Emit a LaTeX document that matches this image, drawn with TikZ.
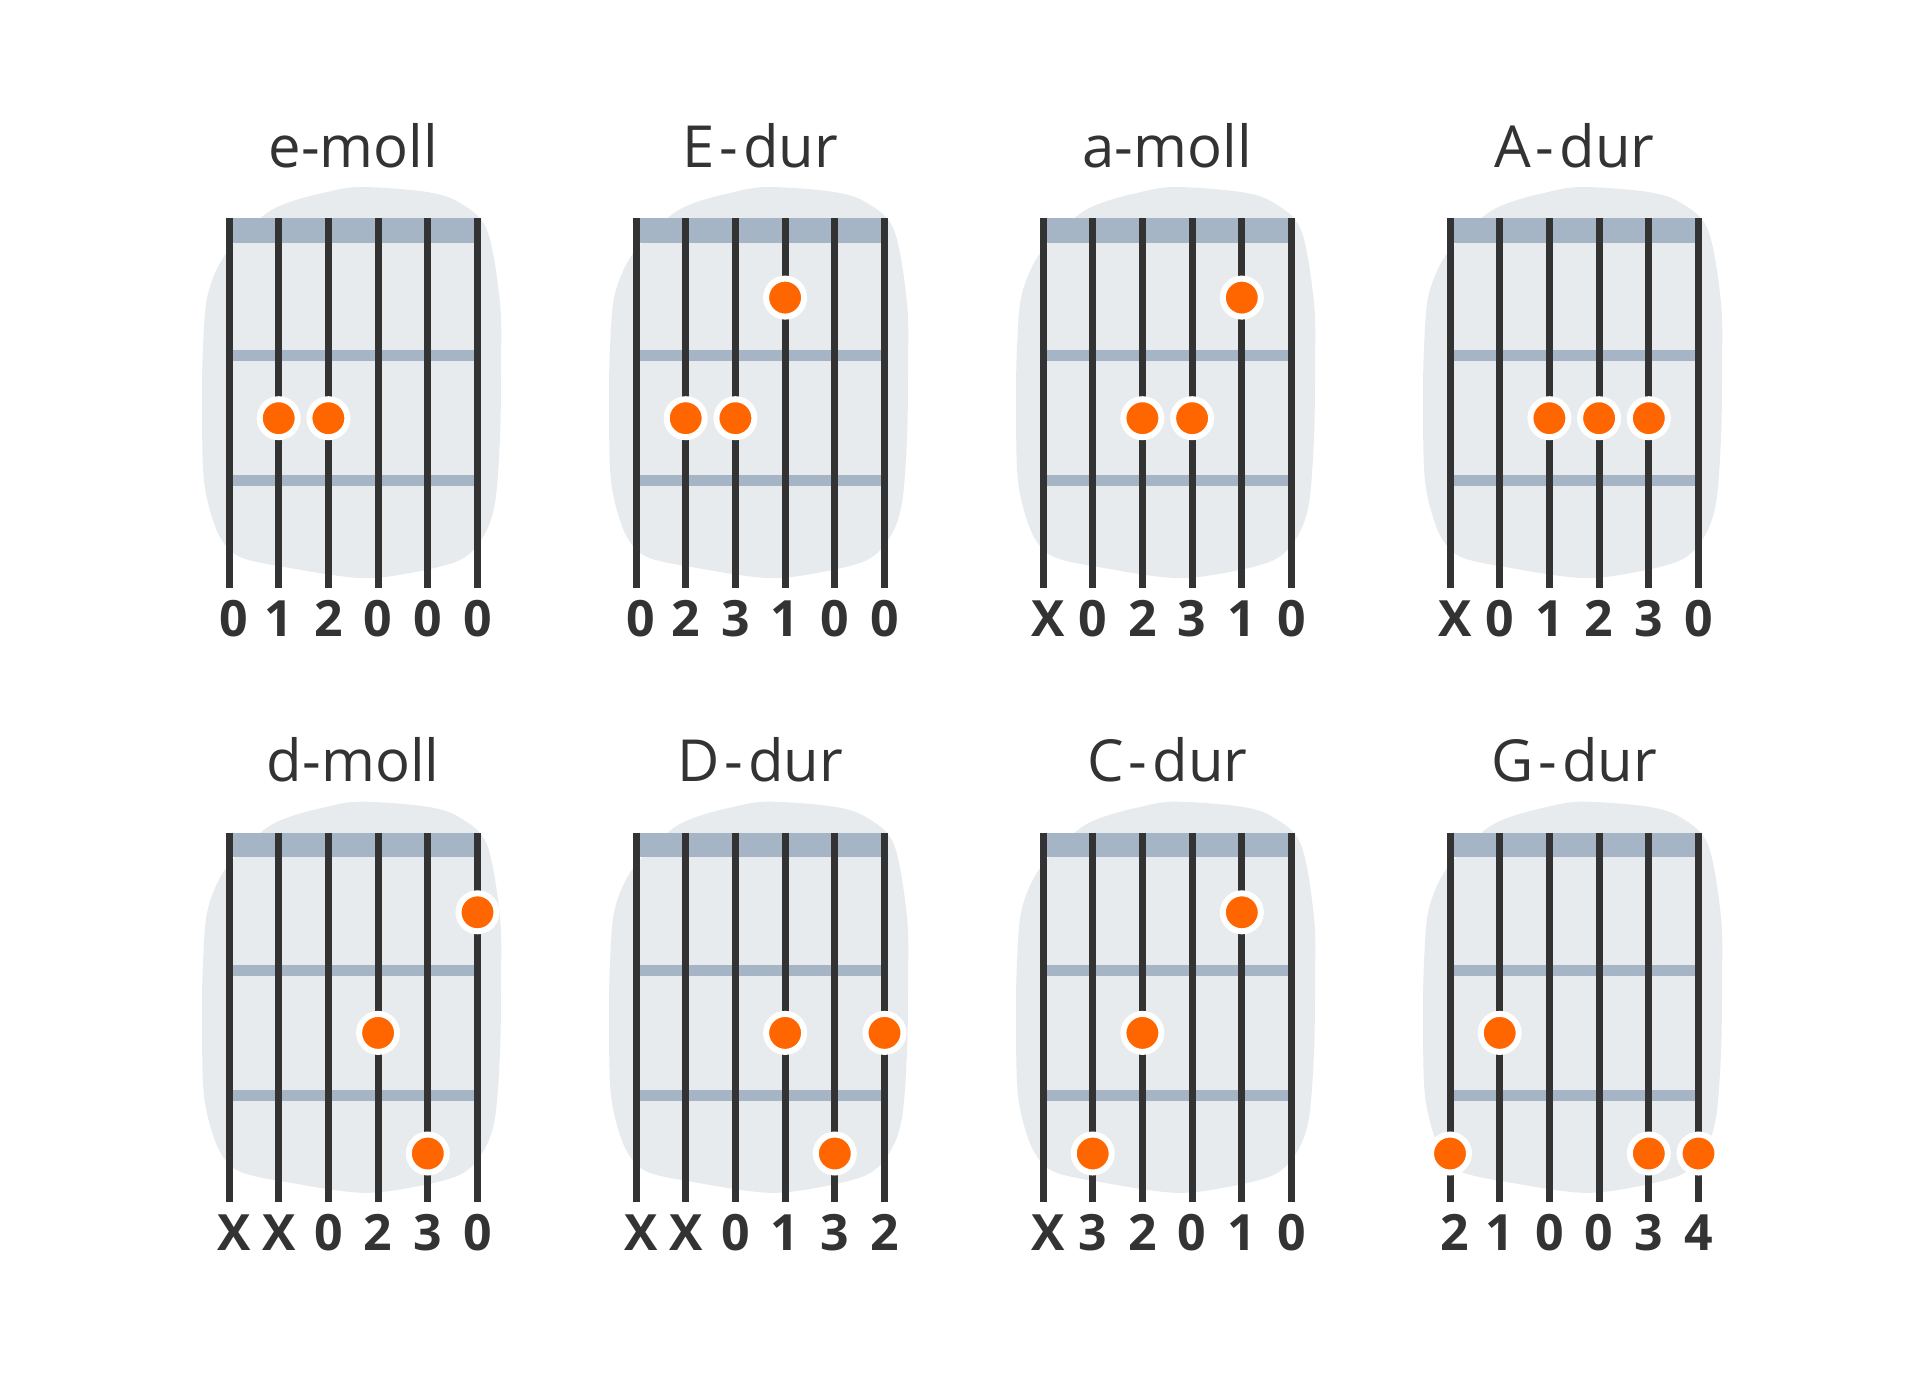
\documentclass[tikz,border=0pt]{standalone}
\usepackage{fontspec}
\setmainfont{Open Sans}
\definecolor{blobc}{HTML}{E7EBEE}
\definecolor{fretc}{HTML}{A5B5C5}
\definecolor{strc}{HTML}{333333}
\definecolor{dotc}{HTML}{FF6600}
\tikzset{
  titlelab/.style={anchor=base,inner sep=0pt,text=strc,font=\fontsize{58}{70}\selectfont},
  numlab/.style={anchor=base,inner sep=0pt,text=strc,font=\fontsize{50}{60}\selectfont\bfseries},
  guitarstring/.style={draw=strc,line width=7pt},
  fretbar/.style={draw=fretc,line width=11pt},
  nutbar/.style={fill=fretc},
  fingerdot/.style={circle,fill=dotc,draw=white,line width=6pt,minimum size=38pt,inner sep=0pt}
}
% #1 id, #2 x0, #3 y0, #4 title, #5 labels, #6 dots (string/fret)
\newcommand\chorddiagram[6]{%
  \begin{scope}[shift={(#2,#3)}]
    \fill[blobc] plot[smooth cycle,tension=0.55] coordinates {
      (11,19) (38,-5) (61,-16) (94,-25) (131,-31) (198,-26) (231,-15) (258,12)
      (271,85) (272,150) (271,219) (266,285) (254,319) (231,342) (181,355)
      (131,360) (61,350) (11,339) (-9,319) (-21,285) (-26,250) (-27,180)
      (-26,130) (-22,80) (-9,45)};
    \fill[nutbar] (0,0) rectangle (248.5,24.5);
    \draw[fretbar] (0,137.5) -- (248.5,137.5);
    \draw[fretbar] (0,262.5) -- (248.5,262.5);
    \foreach \s in {0,...,5} {
      \draw[guitarstring] (\s*49.7,0) -- (\s*49.7,369.5);
    }
    \node[titlelab] (#1-title) at (124.25,-51) {#4};
    \foreach \l [count=\i] in {#5} {
      \pgfmathsetmacro\lx{(\i-1)*49.7+(\i==1?5:0)}
      \node[numlab] (#1-n\i) at (\lx,418) {\l};
    }
    \foreach \s/\f [count=\k] in {#6} {
      \node[fingerdot] (#1-d\k) at ({(\s-1)*49.7},{79.6+(\f-1)*120.6}) {};
    }
  \end{scope}%
}
\newcommand\dsep{\kern5pt-\kern5pt}
\begin{document}
\begin{tikzpicture}[x=1pt,y=-1pt]
\useasboundingbox[fill=white] (0,0) rectangle (1920,1381);
\chorddiagram{em}{229}{218}{e-moll}{0,1,2,0,0,0}{2/2,3/2}
\chorddiagram{E}{636}{218}{E\dsep dur}{0,2,3,1,0,0}{4/1,2/2,3/2}
\chorddiagram{am}{1043}{218}{a-moll}{X,0,2,3,1,0}{5/1,3/2,4/2}
\chorddiagram{A}{1450}{218}{A\dsep dur}{X,0,1,2,3,0}{3/2,4/2,5/2}
\chorddiagram{dm}{229}{832.7}{d-moll}{X,X,0,2,3,0}{6/1,4/2,5/3}
\chorddiagram{D}{636}{832.7}{D\dsep dur}{X,X,0,1,3,2}{4/2,6/2,5/3}
\chorddiagram{C}{1043}{832.7}{C\dsep dur}{X,3,2,0,1,0}{5/1,3/2,2/3}
\chorddiagram{G}{1450}{832.7}{G\dsep dur}{2,1,0,0,3,4}{2/2,1/3,5/3,6/3}
\end{tikzpicture}
\end{document}
